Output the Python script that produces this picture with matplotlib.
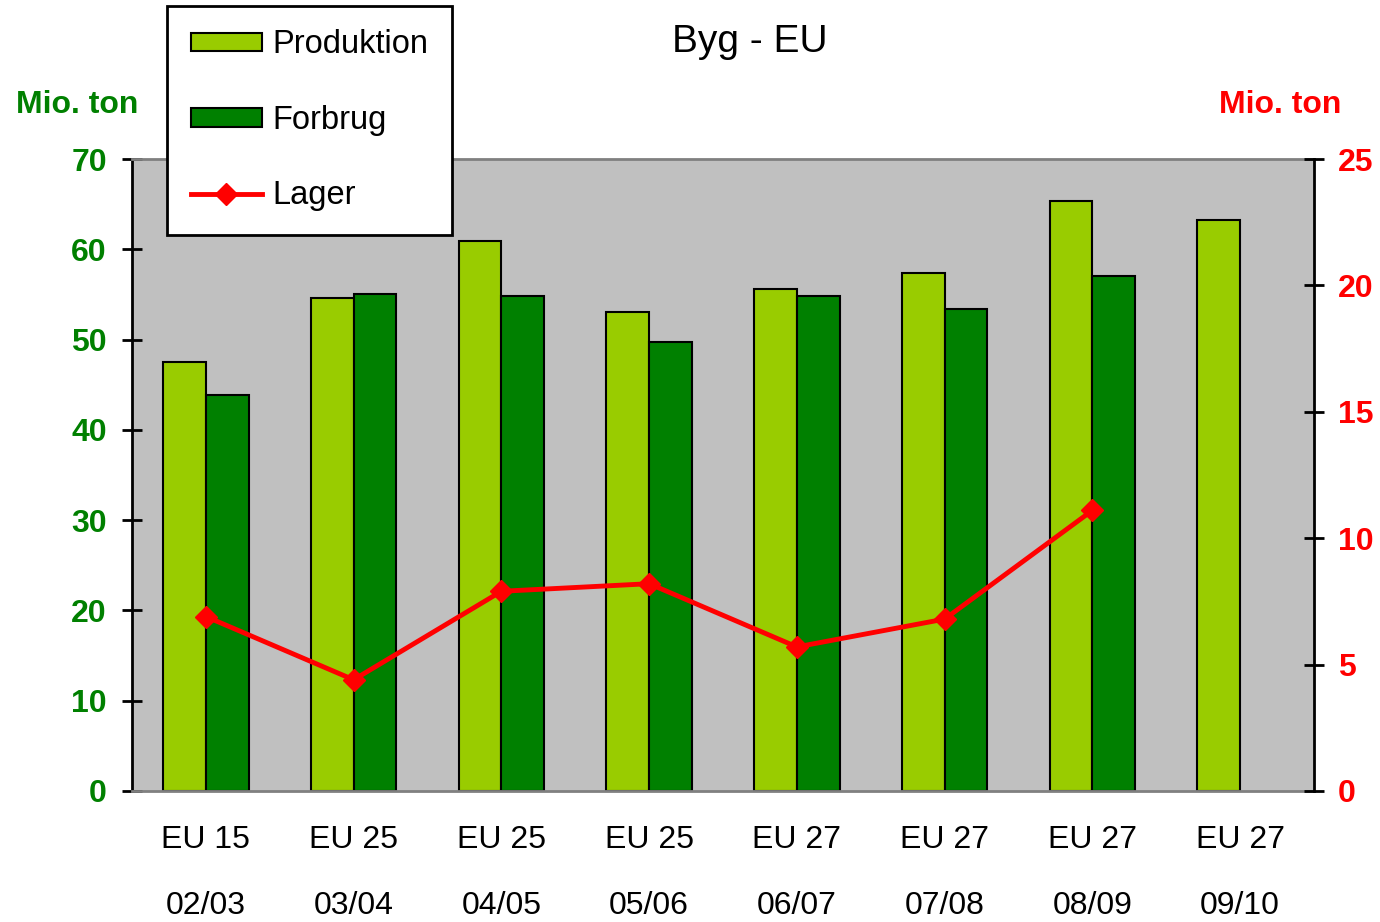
import matplotlib
matplotlib.use("Agg")
import matplotlib.pyplot as plt
import matplotlib.transforms as mtransforms
import numpy as np
from matplotlib.patches import Patch
from matplotlib.lines import Line2D

plt.rcParams['font.family'] = ['Liberation Sans', 'DejaVu Sans']

regions = ["EU 15", "EU 25", "EU 25", "EU 25", "EU 27", "EU 27", "EU 27", "EU 27"]
seasons = ["02/03", "03/04", "04/05", "05/06", "06/07", "07/08", "08/09", "09/10"]
produktion = [47.5, 54.6, 60.9, 53.0, 55.6, 57.4, 65.4, 63.2]
forbrug = [43.9, 55.0, 54.8, 49.7, 54.8, 53.4, 57.0, np.nan]
lager = [6.9, 4.4, 7.9, 8.2, 5.7, 6.8, 11.1]

GREEN_L = '#99CC00'
GREEN_D = '#008000'
RED = '#FF0000'

fig = plt.figure(figsize=(13.8, 9.22), dpi=100)
ax = fig.add_axes([132/1380, 1-791/922, (1314-132)/1380, (791-159)/922])
ax.set_facecolor('#C0C0C0')

x = np.arange(len(seasons))
w = 0.29
ax.bar(x - w/2, produktion, w, color=GREEN_L, edgecolor='black', linewidth=1.5, zorder=2)
ax.bar(x + w/2, forbrug, w, color=GREEN_D, edgecolor='black', linewidth=1.5, zorder=2)
ax.set_xlim(-0.5, len(seasons) - 0.5)
ax.set_ylim(0, 70)
ax.set_yticks(range(0, 71, 10))
ax.set_xticks([])
for s in ['top', 'bottom']:
    ax.spines[s].set_color('#808080')
    ax.spines[s].set_linewidth(2)
ax.spines['left'].set_color('black')
ax.spines['left'].set_linewidth(2)
ax.spines['right'].set_visible(False)
ax.tick_params(axis='y', direction='inout', length=14, width=2, colors='black',
               labelcolor=GREEN_D, labelsize=23, pad=11)
for t in ax.get_yticklabels():
    t.set_fontweight('bold')

ax2 = ax.twinx()
ax2.plot(x[:len(lager)], lager, color=RED, linewidth=3.5, marker='D', markersize=11,
         zorder=5)
ax2.set_ylim(0, 25)
ax2.set_yticks(range(0, 26, 5))
for s in ['top', 'bottom', 'left']:
    ax2.spines[s].set_visible(False)
ax2.spines['right'].set_color('black')
ax2.spines['right'].set_linewidth(2)
ax2.tick_params(axis='y', direction='inout', length=14, width=2, colors='black',
                labelcolor=RED, labelsize=23, pad=10)
for t in ax2.get_yticklabels():
    t.set_fontweight('bold')

tr = mtransforms.blended_transform_factory(ax.transData, fig.transFigure)
for i in range(len(seasons)):
    ax.text(i, 1 - 840/922, regions[i], transform=tr, ha='center', va='center', fontsize=23)
    ax.text(i, 1 - 906/922, seasons[i], transform=tr, ha='center', va='center', fontsize=23)

fig.text(750/1380, 1 - 42/922, 'Byg - EU', ha='center', va='center', fontsize=28)
fig.text(77/1380, 1 - 105/922, 'Mio. ton', ha='center', va='center', fontsize=23,
         fontweight='bold', color=GREEN_D)
fig.text(1280/1380, 1 - 105/922, 'Mio. ton', ha='center', va='center', fontsize=23,
         fontweight='bold', color=RED)

handles = [Patch(facecolor=GREEN_L, edgecolor='black', linewidth=1.5),
           Patch(facecolor=GREEN_D, edgecolor='black', linewidth=1.5),
           Line2D([], [], color=RED, linewidth=3.5, marker='D', markersize=11)]
leg = fig.legend(handles, ['Produktion', 'Forbrug', 'Lager'], loc='upper left',
                 bbox_to_anchor=(167/1380, 1 - 6/922), bbox_transform=fig.transFigure,
                 fontsize=23.5, frameon=True, fancybox=False, edgecolor='black',
                 framealpha=1, borderaxespad=0, borderpad=0.72, labelspacing=1.36,
                 handlelength=2.2, handleheight=0.5, handletextpad=0.3)
leg.get_frame().set_linewidth(2)
leg.set_zorder(10)

fig.savefig('out.png', dpi=100)
